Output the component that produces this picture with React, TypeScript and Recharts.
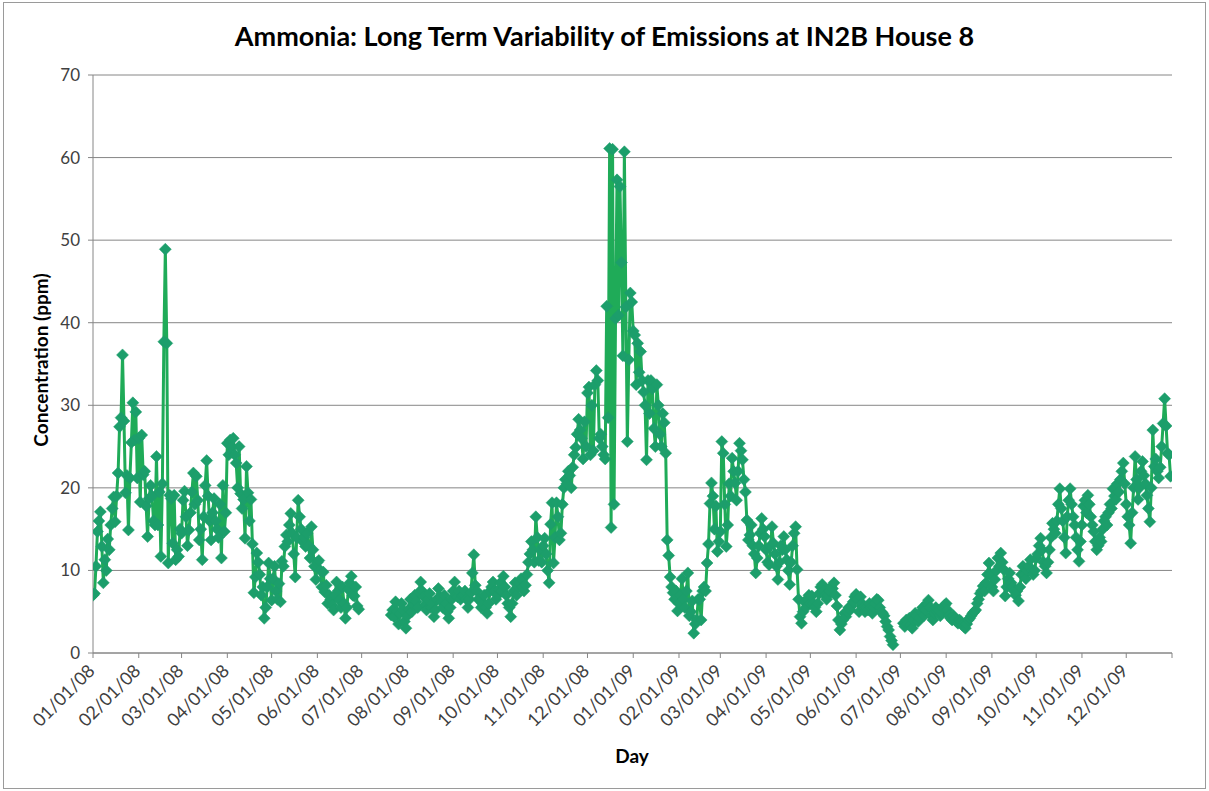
import React from 'react';
import { LineChart, Line, XAxis, YAxis, CartesianGrid } from 'recharts';

// Day offsets since 01/01/08 for monthly ticks
const tickDays = [0, 31, 60, 91, 121, 152, 182, 213, 244, 274, 305, 335, 366, 397, 425, 456, 486, 517, 547, 578, 609, 639, 670, 700, 731];
const tickLabels = ['01/01/08', '02/01/08', '03/01/08', '04/01/08', '05/01/08', '06/01/08', '07/01/08', '08/01/08', '09/01/08', '10/01/08', '11/01/08', '12/01/08',
  '01/01/09', '02/01/09', '03/01/09', '04/01/09', '05/01/09', '06/01/09', '07/01/09', '08/01/09', '09/01/09', '10/01/09', '11/01/09', '12/01/09', ''];
const yTicks = [0, 10, 20, 30, 40, 50, 60, 70];

// Segment 1: daily values from day 0 (01/01/08)
const seg1Start = 0;
const seg1Values = [
  7.0, 7.2, 10.5, 14.7, 16.0, 17.1, 12.9, 8.5, 11.3, 10.0,
  13.8, 12.5, 15.5, 17.5, 18.9, 15.9, 19.0, 21.8, 27.4, 28.5,
  36.1, 28.1, 19.4, 21.5, 14.9, 21.2, 25.5, 30.3, 25.8, 29.2,
  21.2, 26.0, 18.3, 26.4, 21.6, 22.0, 17.8, 14.1, 18.7, 20.3,
  19.0, 16.0, 15.5, 23.8, 15.5, 19.5, 11.7, 20.5, 37.7, 48.9,
  37.5, 10.9, 19.1, 18.7, 13.3, 19.1, 11.3, 12.5, 11.7, 15.0,
  14.5, 18.5, 19.6, 16.5, 13.0, 14.9, 17.0, 19.5, 21.8, 18.0,
  21.4, 18.5, 13.7, 15.0, 11.3, 16.5, 20.3, 23.3, 19.0, 16.0,
  13.7, 17.0, 18.7, 16.0, 15.0, 14.0, 18.0, 11.5, 20.3, 14.7,
  17.0, 25.4, 24.0, 25.8, 25.0, 26.0, 24.0, 23.0, 20.0, 25.0,
  19.3, 17.5, 18.6, 13.9, 22.6, 19.4, 16.0, 18.6, 13.2, 7.3,
  9.2, 12.1, 11.0, 9.5, 7.0, 8.0, 4.2, 5.5, 8.0, 10.9,
  9.0, 6.4, 9.0, 10.5, 7.5, 6.5, 8.4, 6.2, 11.1, 10.5,
  12.9, 14.3, 13.5, 15.5, 16.9, 14.5, 12.0, 9.2, 14.0, 18.5,
  16.5, 15.0, 13.5, 14.0, 12.9, 14.5, 13.0, 11.5, 15.3, 12.5,
  10.5, 8.9, 11.0, 11.2, 10.0, 8.0, 9.8, 7.4, 8.2, 6.0,
  7.0, 6.5, 5.8, 5.2, 7.0, 8.6, 7.5, 6.4, 5.5, 8.0,
  6.0, 4.2, 5.5, 7.7, 8.5, 9.3, 7.0, 6.9, 8.0, 5.7, 5.3,
];

// Segment 2: daily values from day 202 (07/21/08)
const seg2Start = 202;
const seg2Values = [
  4.6, 5.2, 4.4, 6.2, 5.0, 3.5, 4.8, 6.0, 5.2, 3.8,
  3.0, 4.5, 5.3, 6.5, 5.0, 5.8, 7.0, 6.2, 5.5, 7.4,
  8.6, 7.5, 6.8, 5.8, 5.2, 6.5, 7.2, 5.5, 6.0, 4.4,
  5.2, 6.5, 7.8, 6.8, 6.2, 5.5, 7.0, 6.0, 5.0, 4.2,
  5.5, 6.5, 7.5, 8.6, 7.0, 6.8, 7.5, 6.5, 7.0, 7.0,
  7.5, 6.5, 5.5, 6.5, 7.3, 9.7, 11.9, 8.2, 7.5, 6.5,
  6.5, 5.5, 6.0, 7.0, 5.5, 4.8, 6.0, 7.5, 8.0, 8.6,
  7.5, 6.5, 7.0, 7.7, 8.5, 7.5, 9.3, 8.0, 7.0, 6.0,
  5.5, 4.4, 6.0, 7.5, 8.5, 7.0, 8.0, 8.5, 9.0, 8.0,
  7.5, 8.2, 9.5, 11.0, 12.0, 13.5, 12.5, 11.0, 16.5, 14.0,
  11.2, 12.5, 11.0, 13.0, 13.9, 12.0, 10.0, 8.5, 15.6, 18.2,
  10.9, 14.0, 18.2, 16.5, 13.7, 14.5, 18.0, 20.0, 21.0, 20.5,
  22.0, 21.5, 20.0, 22.5, 24.0, 24.9, 26.5, 28.3, 27.0, 26.0,
  23.5, 28.0, 25.0, 31.5, 32.2, 24.0, 30.0, 24.5, 32.5, 34.2,
  33.0, 26.0, 26.5, 25.0, 24.0, 23.5, 42.0, 28.5, 61.1, 15.2,
  61.0, 18.0, 40.5, 57.3, 40.9, 56.5, 47.3, 36.0, 60.7, 41.9,
  25.6, 35.5, 43.6, 42.5, 39.0, 38.5, 32.5, 37.5, 34.0, 36.5,
  33.0, 31.6, 30.0, 23.4, 33.0, 29.0, 33.0, 32.0, 27.2, 25.0,
  32.5, 30.0, 26.5, 25.0, 29.0, 27.9, 24.2, 13.7, 11.8, 9.2,
  8.0, 7.3, 6.5, 7.5, 5.1, 6.0, 7.0, 9.0, 6.5, 5.5,
  7.5, 9.7, 4.5, 5.0, 6.3, 2.4, 3.5, 4.0, 6.5, 6.5,
  4.0, 7.5, 8.0, 7.5, 10.9, 13.2, 18.1, 20.6, 19.0, 15.0,
  17.8, 12.3, 13.5, 14.7, 25.6, 24.2, 18.0, 12.9, 15.5, 20.5,
  19.0, 23.6, 22.0, 20.6, 18.5, 22.0, 25.4, 24.5, 23.4, 21.0,
  19.5, 16.1, 13.7, 14.3, 15.5, 13.0, 12.0, 9.7, 11.5, 13.0,
  14.5, 16.3, 15.0, 14.1, 12.5, 11.0, 10.7, 13.0, 15.3, 13.3,
  12.0, 10.5, 8.9, 11.0, 13.0, 12.5, 14.1, 12.5, 11.3, 10.0,
  8.3, 11.0, 13.0, 14.5, 15.3, 10.1, 6.5, 4.4, 3.6, 5.0,
  6.2, 5.5, 6.5, 7.0, 6.0, 6.9, 6.0, 5.5, 5.0, 6.0,
  7.2, 8.0, 8.3, 7.5, 7.0, 6.5, 7.0, 7.5, 8.0, 7.8,
  8.5, 7.0, 5.7, 4.0, 2.8, 3.5, 4.0, 4.8, 4.4, 5.0,
  5.5, 5.2, 5.7, 6.2, 6.8, 7.1, 6.5, 5.0, 6.8, 6.0,
  5.6, 5.0, 5.5, 5.2, 6.0, 5.5, 4.8, 5.5, 6.0, 6.5,
  6.4, 5.5, 5.0, 4.8, 4.5, 3.8, 3.2, 2.8, 2.0, 1.5, 1.0,
];

// Segment 3: daily values from day 549 (07/03/09)
const seg3Start = 549;
const seg3Values = [
  3.6, 3.2, 4.0, 3.5, 4.2, 3.4, 3.0, 4.0, 4.8, 4.5,
  3.8, 4.2, 5.0, 5.5, 4.5, 5.2, 6.0, 6.4, 5.5, 4.5,
  4.0, 4.8, 5.5, 5.0, 5.2, 4.5, 4.8, 5.5, 5.8, 6.0,
  5.2, 4.5, 4.2, 4.0, 4.5, 4.2, 3.8, 3.6, 4.0, 3.8,
  3.4, 3.2, 3.0, 3.5, 4.0, 4.2, 4.5, 4.8, 5.0, 5.2,
  6.0, 6.5, 7.2, 7.5, 8.1, 7.5, 8.5, 9.5, 10.9, 9.5,
  8.0, 7.5, 8.9, 10.0, 11.5, 10.5, 12.1, 11.0, 10.1, 6.9,
  8.0, 9.0, 9.7, 8.5, 8.0, 7.5, 7.0, 7.5, 6.3, 8.0,
  9.5, 10.5, 9.5, 9.0, 10.0, 10.5, 11.3, 10.0, 9.5, 10.0,
  11.5, 12.0, 13.0, 13.9, 12.5, 11.0, 10.5, 9.7, 11.0, 12.5,
  14.0, 15.7, 15.0, 14.5, 16.0, 18.0, 19.9, 17.5, 16.0, 14.0,
  12.1, 16.5, 18.5, 19.9, 18.0, 16.5, 15.5, 14.0, 12.5, 11.1,
  13.5, 15.5, 17.8, 18.5, 17.0, 19.1, 18.0, 16.5, 15.5, 14.7,
  13.5, 12.5, 13.0, 14.0, 13.5, 15.0, 16.0, 16.5, 15.5, 17.0,
  18.0, 17.5, 19.9, 19.0, 18.6, 20.5, 19.5, 21.0, 22.0, 23.0,
  20.5, 18.0, 16.5, 15.5, 13.3, 17.0, 20.0, 23.8, 21.0, 18.6,
  20.0, 22.0, 23.2, 21.5, 20.5, 19.1, 17.5, 15.9, 20.0, 27.0,
  22.6, 23.5, 22.0, 21.2, 22.5, 25.0, 27.8, 30.8, 27.5, 24.2,
  24.0, 21.4,
];

type Pt = { day: number; value: number | null };

const buildData = (): Pt[] => {
  const out: Pt[] = [];
  const segs: [number, number[]][] = [[seg1Start, seg1Values], [seg2Start, seg2Values], [seg3Start, seg3Values]];
  segs.forEach(([start, vals], si) => {
    if (si > 0) out.push({ day: start - 1, value: null });
    vals.forEach((v, i) => out.push({ day: start + i, value: v }));
  });
  return out;
};

const data = buildData();

const FONT = 'Lato, "Open Sans", sans-serif';
const GRID = '#868686';
const LINE = '#1fab58';
const MARK = '#1c9e6b';

const Diamond = (props: any) => {
  const { cx, cy, index, value } = props;
  if (cx == null || cy == null || value == null || isNaN(cy)) return <g key={`e-${index}`} />;
  const r = 6;
  return (
    <path
      key={`d-${index}`}
      d={`M${cx},${cy - r}L${cx + r},${cy}L${cx},${cy + r}L${cx - r},${cy}Z`}
      fill={MARK}
      stroke={MARK}
      strokeWidth={0.5}
    />
  );
};

const XTick = (props: any) => {
  const { x, y, payload } = props;
  const idx = tickDays.indexOf(payload.value);
  const label = idx >= 0 ? tickLabels[idx] : '';
  return (
    <g transform={`translate(${x + 3},${y + 14})`}>
      <text textAnchor="end" transform="rotate(-45)" fontFamily={FONT} fontSize={18} fill="#404040">
        {label}
      </text>
    </g>
  );
};

export default function App() {
  return (
    <div style={{ position: 'absolute', left: 0, top: 0, width: 1209, height: 791, background: '#fff', fontFamily: FONT }}>
      <div style={{ position: 'absolute', left: 3, top: 2, width: 1201, height: 785, border: '1px solid #9a9a9a' }} />
      <div style={{ position: 'absolute', left: 0, top: 20, width: 1209, textAlign: 'center', fontSize: 27, fontWeight: 700, color: '#000', lineHeight: '32px' }}>
        Ammonia:  Long Term Variability of Emissions at IN2B House 8
      </div>
      <LineChart width={1209} height={791} data={data} margin={{ top: 75, right: 37, left: 23, bottom: 58 }}>
        <CartesianGrid horizontal vertical={false} stroke={GRID} strokeWidth={1} />
        <XAxis
          dataKey="day"
          type="number"
          domain={[0, 731]}
          ticks={tickDays}
          interval={0}
          height={80}
          tickSize={5}
          tickMargin={0}
          axisLine={{ stroke: GRID }}
          tickLine={{ stroke: GRID }}
          tick={<XTick />}
          allowDataOverflow
        />
        <YAxis
          type="number"
          domain={[0, 70]}
          ticks={yTicks}
          interval={0}
          width={70}
          tickSize={5}
          tickMargin={8}
          axisLine={{ stroke: GRID }}
          tickLine={{ stroke: GRID }}
          tick={{ fontFamily: FONT, fontSize: 17, fill: '#404040' }}
        />
        <Line
          type="linear"
          dataKey="value"
          stroke={LINE}
          strokeWidth={3}
          dot={Diamond}
          activeDot={false}
          isAnimationActive={false}
          connectNulls={false}
        />
      </LineChart>
      <div style={{ position: 'absolute', left: 40, top: 360, transform: 'translate(-50%, -50%) rotate(-90deg)', whiteSpace: 'nowrap', fontSize: 19, fontWeight: 700, color: '#000' }}>
        Concentration (ppm)
      </div>
      <div style={{ position: 'absolute', left: 632, top: 755, transform: 'translate(-50%, -50%)', whiteSpace: 'nowrap', fontSize: 19, fontWeight: 700, color: '#000' }}>
        Day
      </div>
    </div>
  );
}
